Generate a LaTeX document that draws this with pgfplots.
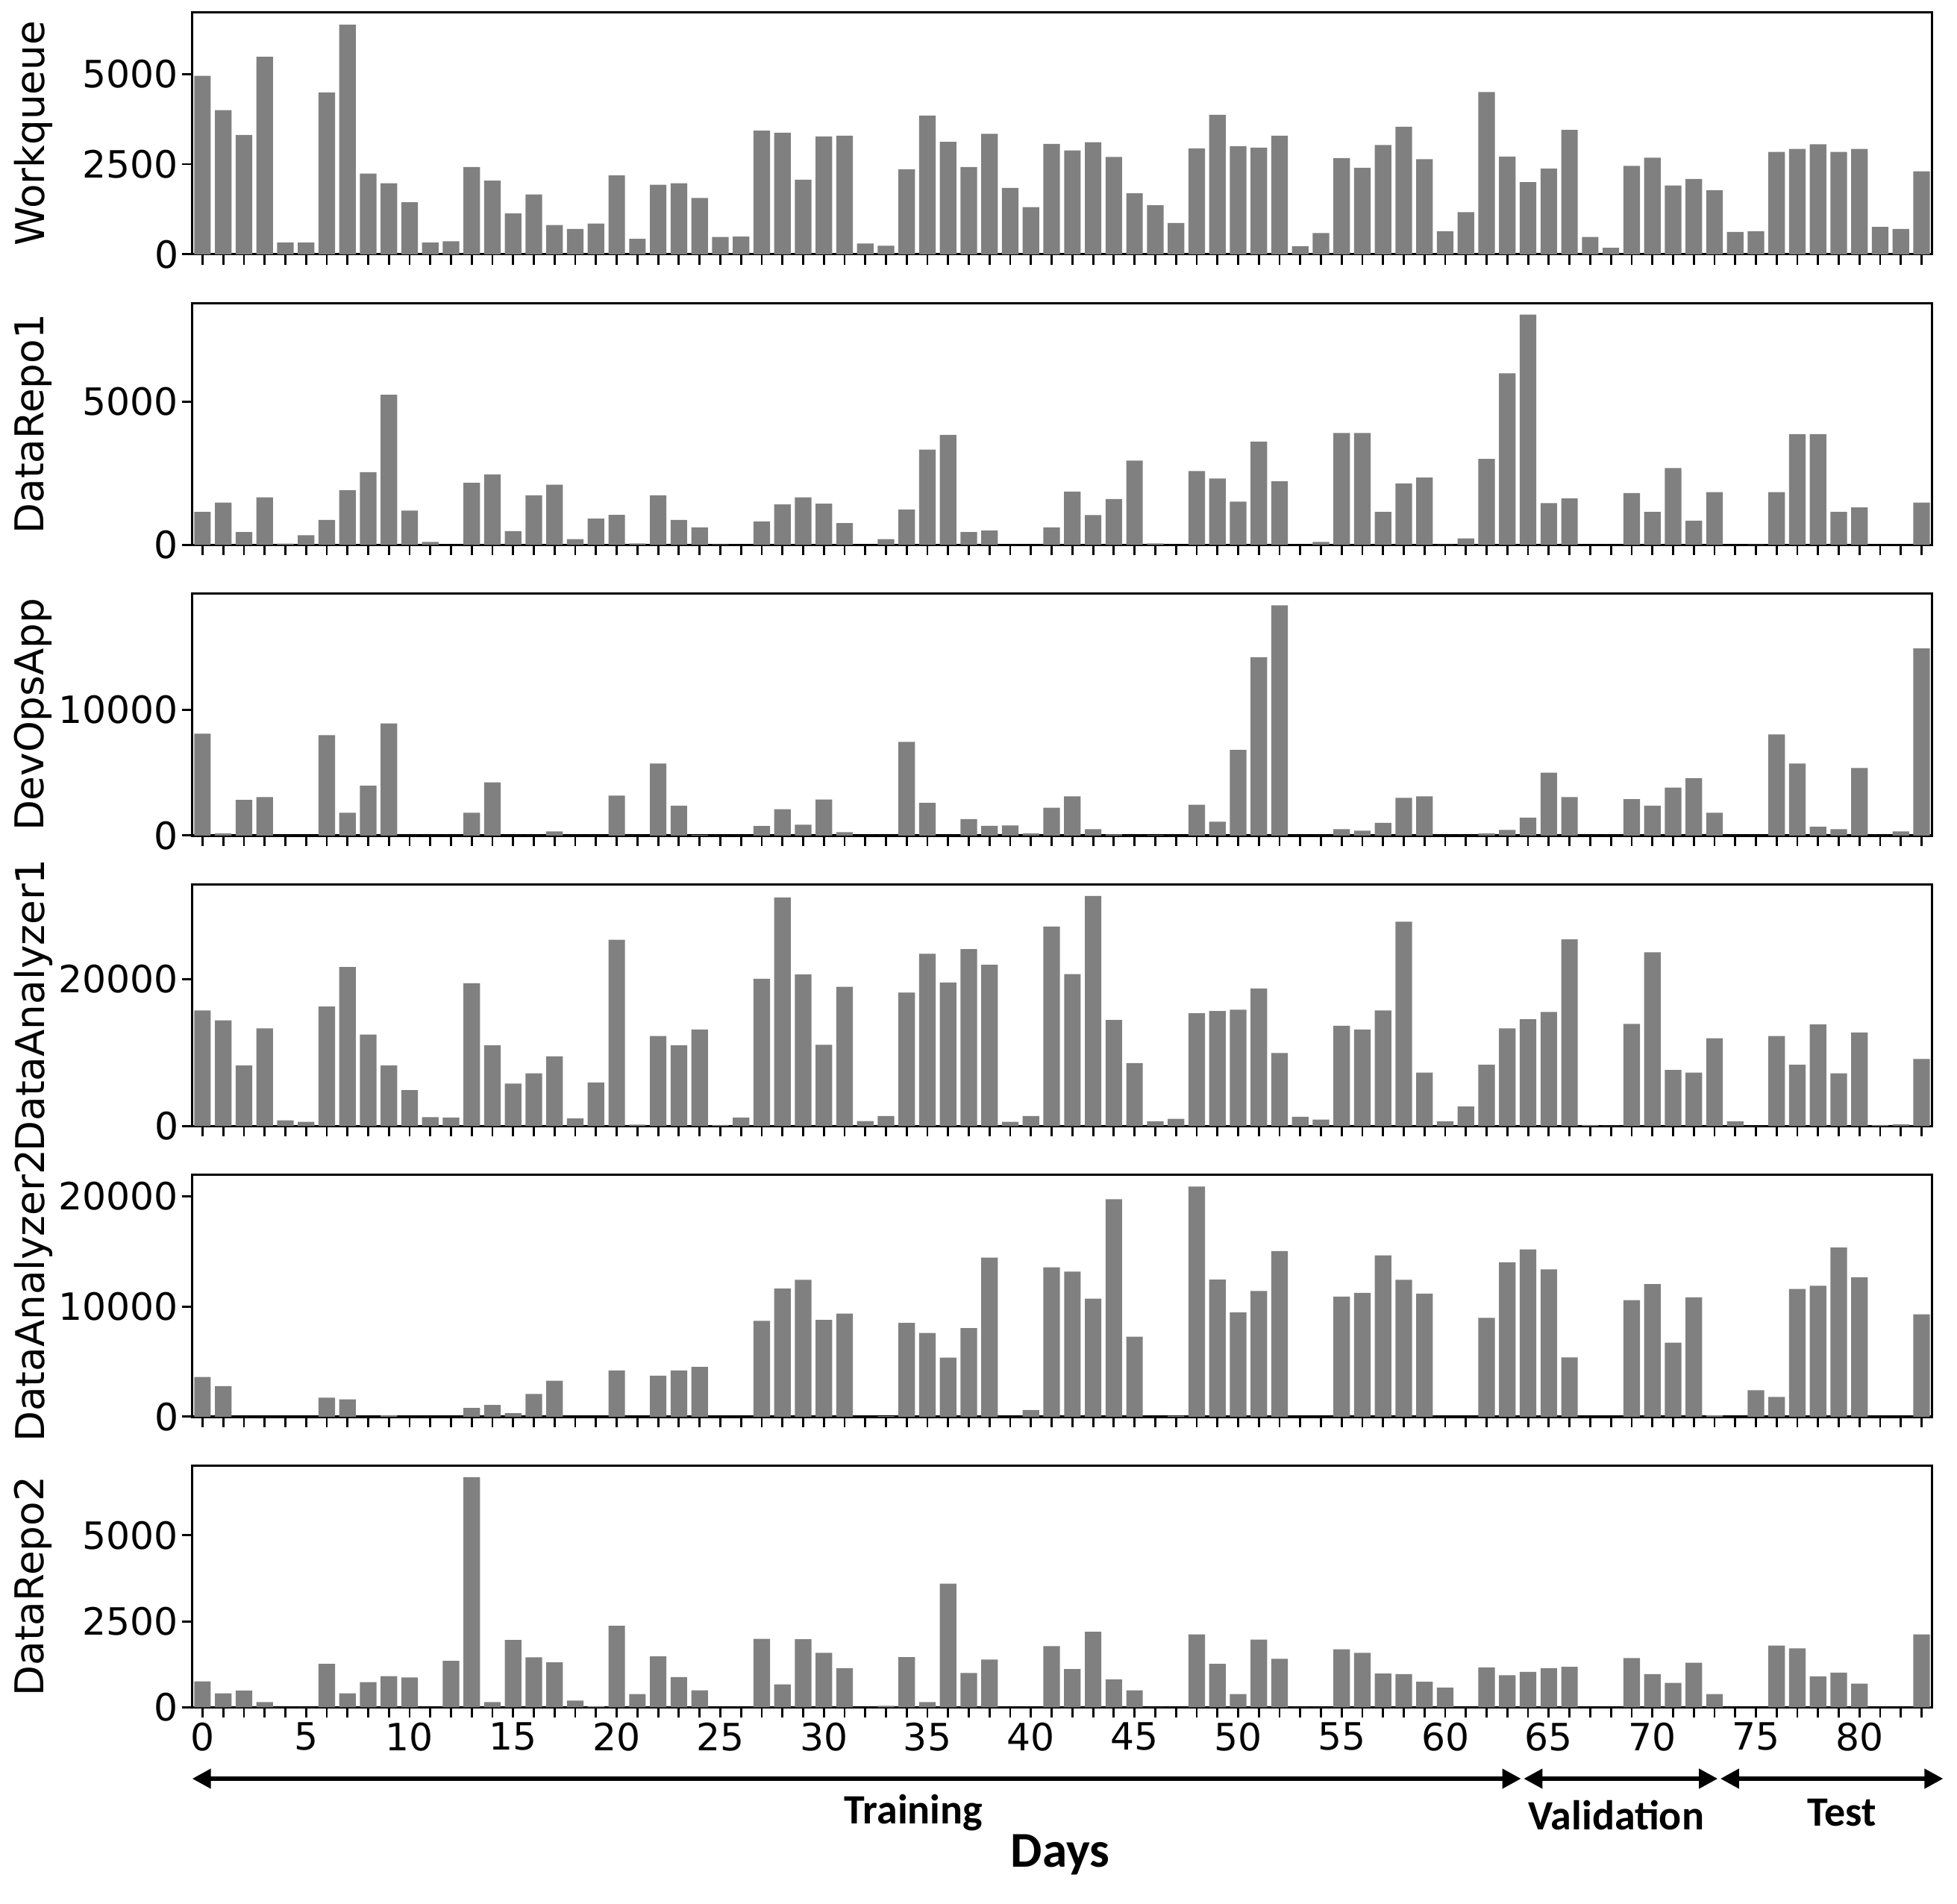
\documentclass[border=0pt]{standalone}
\usepackage{pgfplots}
\pgfplotsset{compat=1.18}
\usepackage{pgfplotstable}
\usepackage{fontspec}
\setmainfont{DejaVu Sans}
\newfontfamily\carlito{Carlito}
\usetikzlibrary{arrows.meta}
\definecolor{bargray}{RGB}{128,128,128}

\pgfplotstableread{
day wq dra dev daa dab drb
0 4950 1150 8110 15720 3600 756
1 4000 1480 160 14370 2780 407
2 3310 450 2840 8250 0 487
3 5480 1660 3060 13280 0 153
4 325 44 0 780 0 0
5 325 340 0 580 0 7
6 4490 870 7990 16270 1720 1264
7 6370 1910 1810 21630 1580 407
8 2240 2540 3960 12460 0 734
9 1970 5240 8930 8250 140 908
10 1440 1200 0 4890 0 865
11 325 105 0 1220 0 0
12 360 0 0 1160 0 1352
13 2420 2170 1810 19430 790 6690
14 2040 2460 4230 10970 1060 153
15 1130 480 0 5770 320 1955
16 1660 1730 0 7170 2060 1453
17 810 2100 320 9480 3260 1308
18 700 200 0 1050 0 196
19 850 915 0 5940 0 29
20 2190 1050 3180 25330 4190 2369
21 430 52 0 200 0 385
22 1930 1730 5730 12260 3730 1482
23 1970 870 2370 10970 4190 879
24 1560 610 40 13140 4520 494
25 480 20 0 140 0 0
26 490 0 0 1160 0 0
27 3430 820 755 20040 8710 1991
28 3370 1410 2090 31110 11630 669
29 2070 1660 855 20610 12420 1977
30 3270 1440 2860 11070 8780 1584
31 3290 760 260 18950 9370 1141
32 300 0 0 680 0 0
33 235 200 0 1360 45 44
34 2360 1240 7460 18170 8510 1461
35 3850 3330 2600 23430 7600 153
36 3120 3840 0 19530 5360 3597
37 2420 450 1310 24080 8050 996
38 3340 500 775 21940 14450 1388
39 1840 0 795 580 0 0
40 1310 0 160 1360 610 0
41 3060 610 2210 27130 13570 1780
42 2880 1860 3120 20680 13170 1112
43 3110 1040 500 31310 10720 2195
44 2700 1600 80 14430 19750 814
45 1690 2940 0 8560 7260 494
46 1360 52 20 650 0 7
47 870 0 0 990 90 0
48 2940 2580 2450 15350 20900 2122
49 3870 2320 1090 15660 12440 1264
50 3000 1510 6820 15830 9460 385
51 2960 3610 14190 18710 11420 1969
52 3290 2220 18330 9950 15040 1410
53 220 0 0 1260 0 7
54 590 105 0 880 0 7
55 2670 3910 500 13650 10900 1686
56 2400 3910 380 13140 11240 1584
57 3030 1150 1010 15720 14640 981
58 3540 2140 3000 27810 12420 967
59 2640 2350 3120 7270 11170 741
60 640 10 0 650 0 574
61 1170 226 0 2650 0 7
62 4500 3000 160 8350 8980 1163
63 2710 5990 440 13280 14020 930
64 2000 8040 1430 14540 15180 1032
65 2380 1455 5010 15520 13370 1141
66 3450 1630 3060 25400 5380 1177
67 480 0 0 140 0 0
68 180 0 0 50 0 0
69 2450 1810 2900 13890 10590 1432
70 2680 1150 2370 23640 12030 967
71 1910 2680 3820 7640 6720 712
72 2090 845 4550 7270 10840 1294
73 1780 1840 1810 11950 110 385
74 620 0 0 650 0 0
75 640 10 0 30 2400 0
76 2840 1840 8050 12260 1790 1795
77 2920 3870 5730 8350 11600 1715
78 3050 3870 700 13820 11880 901
79 2840 1150 500 7170 15360 1010
80 2920 1310 5370 12740 12650 690
81 760 0 0 140 0 0
82 700 0 320 240 0 0
83 2300 1480 14890 9140 9300 2122
}\data

\pgfplotsset{
  panel/.style={
    scale only axis, width=416.7pt, height=57.9pt,
    anchor=north west,
    xmin=-0.5, xmax=83.5, ymin=0,
    ybar, bar width=0.8, bar shift=0pt,
    xtick={0,5,...,80}, minor xtick={0,...,83},
    xtick pos=left, ytick pos=left,
    tick align=outside,
    major tick length=2.5pt, minor tick length=2.5pt,
    every tick/.style={black, line width=0.5pt},
    axis line style={line width=0.6pt},
    scaled y ticks=false,
    /pgf/number format/1000 sep={},
    /pgf/number format/assume math mode=true,
    ticklabel style={font=\fontsize{9}{10.5}\selectfont},
    yticklabel style={inner sep=0.6pt},
    xticklabel style={inner sep=1pt},
    every axis y label/.style={at={(rel axis cs:-0.0914,0.5)}, rotate=90, anchor=center, font=\fontsize{9.5}{11}\selectfont},
    clip=false,
  },
  barstyle/.style={fill=bargray, draw=none},
}

\begin{document}
\begin{tikzpicture}
\path (-45.6pt,3pt) rectangle (422.7pt,-453pt);

\begin{axis}[panel, at={(0pt,0pt)}, ymax=6706, ytick={0,2500,5000}, xticklabels={}, ylabel={Workqueue}]
\addplot[barstyle] table[x=day,y=wq]{\data};
\end{axis}

\begin{axis}[panel, at={(0pt,-69.6pt)}, ymax=8442, ytick={0,5000}, xticklabels={}, ylabel={DataRepo1}]
\addplot[barstyle] table[x=day,y=dra]{\data};
\end{axis}

\begin{axis}[panel, at={(0pt,-139.2pt)}, ymax=19250, ytick={0,10000}, xticklabels={}, ylabel={DevOpsApp}]
\addplot[barstyle] table[x=day,y=dev]{\data};
\end{axis}

\begin{axis}[panel, at={(0pt,-208.8pt)}, ymax=32880, ytick={0,20000}, xticklabels={}, ylabel={DataAnalyzer1}]
\addplot[barstyle] table[x=day,y=daa]{\data};
\end{axis}

\begin{axis}[panel, at={(0pt,-278.4pt)}, ymax=21950, ytick={0,10000,20000}, xticklabels={}, ylabel={DataAnalyzer2}]
\addplot[barstyle] table[x=day,y=dab]{\data};
\end{axis}

\begin{axis}[panel, at={(0pt,-348pt)}, ymax=7030, ytick={0,2500,5000}, ylabel={DataRepo2}]
\addplot[barstyle] table[x=day,y=drb]{\data};
\end{axis}

\draw[line width=1.2pt, {Triangle[length=4.5pt,width=4.5pt]}-{Triangle[length=4.5pt,width=4.5pt]}] (0pt,-423pt) -- (318.3pt,-423pt);
\draw[line width=1.2pt, {Triangle[length=4.5pt,width=4.5pt]}-{Triangle[length=4.5pt,width=4.5pt]}] (318.9pt,-423pt) -- (365.4pt,-423pt);
\draw[line width=1.2pt, {Triangle[length=4.5pt,width=4.5pt]}-{Triangle[length=4.5pt,width=4.5pt]}] (366pt,-423pt) -- (419.4pt,-423pt);
\node[font=\carlito\bfseries\fontsize{10}{12}\selectfont] at (172.8pt,-431.1pt) {Training};
\node[font=\carlito\bfseries\fontsize{10}{12}\selectfont] at (341.1pt,-431.7pt) {Validation};
\node[font=\carlito\bfseries\fontsize{10}{12}\selectfont] at (395.1pt,-431.1pt) {Test};
\node[font=\carlito\bfseries\fontsize{12}{14}\selectfont] at (207.9pt,-441.3pt) {Days};
\end{tikzpicture}
\end{document}
